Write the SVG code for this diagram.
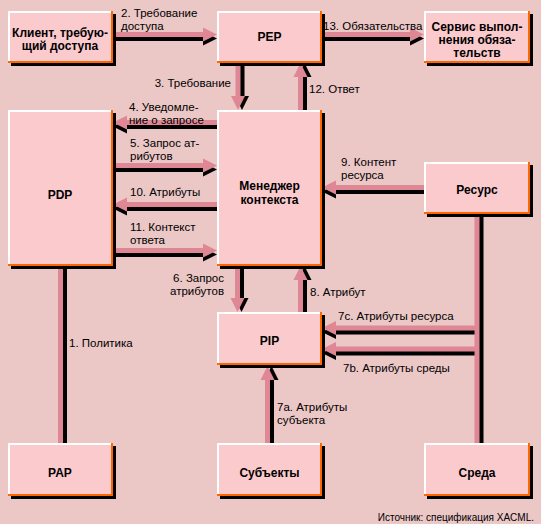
<svg xmlns="http://www.w3.org/2000/svg" width="541" height="524" viewBox="0 0 541 524">
<style>
.sh{fill:#000}
.or{fill:#FF6600}
.wh{fill:#FFFFFF}
.bx{fill:#FBCACD}
.t{font-family:"Liberation Sans",Arial,sans-serif;font-size:11.5px;fill:#000}
.b{font-size:12px;font-weight:bold;text-anchor:middle}
.e{text-anchor:end}
.ln{stroke:#E08795;stroke-width:5;fill:none}
.lns{stroke:#000;stroke-width:5;fill:none}
.hd{fill:#E08795}
.hds{fill:#000}
.src{font-family:"Liberation Sans",Arial,sans-serif;font-size:10px;fill:#000;text-anchor:end}
</style>
<rect x="0" y="0" width="541" height="524" fill="#EBC7C6"/>
<g id="connectors">
  <g id="shadows">
    <g transform="translate(0,4)">
      <path class="lns" d="M113 34.5H204M322 34.5H411M113 165.5H204M113 250.5H204M217 122.5H126M217 204.5H126M424 187.5H335M477 328H335M477 349H335"/>
      <polygon class="hds" points="203,27.5 217,34.5 203,41.5"/>
      <polygon class="hds" points="410,27.5 424,34.5 410,41.5"/>
      <polygon class="hds" points="203,158.5 217,165.5 203,172.5"/>
      <polygon class="hds" points="203,243.5 217,250.5 203,257.5"/>
      <polygon class="hds" points="127,115.5 113,122.5 127,129.5"/>
      <polygon class="hds" points="127,197.5 113,204.5 127,211.5"/>
      <polygon class="hds" points="336,180.5 322,187.5 336,194.5"/>
      <polygon class="hds" points="336,321 322,328 336,335"/>
      <polygon class="hds" points="336,342 322,349 336,356"/>
    </g>
    <g transform="translate(4,0)">
      <path class="lns" d="M238 63V97M237.5 266V299M300.5 110V76M300.5 312V279M267.5 443V379M60.5 266V443M477 214V443"/>
      <polygon class="hds" points="231,96 238,110 245,96"/>
      <polygon class="hds" points="230.5,298 237.5,312 244.5,298"/>
      <polygon class="hds" points="293.5,77 300.5,63 307.5,77"/>
      <polygon class="hds" points="293.5,280 300.5,266 307.5,280"/>
      <polygon class="hds" points="260.5,380 267.5,366 274.5,380"/>
    </g>
  </g>
  <g id="lines">
    <path class="ln" d="M113 34.5H204M322 34.5H411M113 165.5H204M113 250.5H204M217 122.5H126M217 204.5H126M424 187.5H335M477 328H335M477 349H335"/>
    <path class="ln" d="M238 63V97M237.5 266V299M300.5 110V76M300.5 312V279M267.5 443V379M60.5 266V443M477 214V443"/>
    <polygon class="hd" points="203,27.5 217,34.5 203,41.5"/>
    <polygon class="hd" points="410,27.5 424,34.5 410,41.5"/>
    <polygon class="hd" points="203,158.5 217,165.5 203,172.5"/>
    <polygon class="hd" points="203,243.5 217,250.5 203,257.5"/>
    <polygon class="hd" points="127,115.5 113,122.5 127,129.5"/>
    <polygon class="hd" points="127,197.5 113,204.5 127,211.5"/>
    <polygon class="hd" points="336,180.5 322,187.5 336,194.5"/>
    <polygon class="hd" points="336,321 322,328 336,335"/>
    <polygon class="hd" points="336,342 322,349 336,356"/>
    <polygon class="hd" points="231,96 238,110 245,96"/>
    <polygon class="hd" points="230.5,298 237.5,312 244.5,298"/>
    <polygon class="hd" points="293.5,77 300.5,63 307.5,77"/>
    <polygon class="hd" points="293.5,280 300.5,266 307.5,280"/>
    <polygon class="hd" points="260.5,380 267.5,366 274.5,380"/>
  </g>
  <g id="labels">
    <text class="t" x="69" y="347">1. Политика</text>
    <text class="t" x="121" y="17">2. Требование</text>
    <text class="t" x="121" y="30">доступа</text>
    <text class="t e" x="231" y="87">3. Требование</text>
    <text class="t" x="129" y="111">4. Уведомле-</text>
    <text class="t" x="129" y="124">ние о запросе</text>
    <text class="t" x="130" y="147">5. Запрос ат-</text>
    <text class="t" x="130" y="160">рибутов</text>
    <text class="t e" x="224" y="282">6. Запрос</text>
    <text class="t e" x="224" y="295">атрибутов</text>
    <text class="t" x="277" y="411">7a. Атрибуты</text>
    <text class="t" x="277" y="424">субъекта</text>
    <text class="t" x="343" y="372">7b. Атрибуты среды</text>
    <text class="t" x="338" y="320">7c. Атрибуты ресурса</text>
    <text class="t" x="310" y="296">8. Атрибут</text>
    <text class="t" x="341" y="166">9. Контент</text>
    <text class="t" x="341" y="179">ресурса</text>
    <text class="t" x="130" y="196">10. Атрибуты</text>
    <text class="t" x="130" y="231">11. Контекст</text>
    <text class="t" x="130" y="244">ответа</text>
    <text class="t" x="309" y="93">12. Ответ</text>
    <text class="t" x="323" y="30">13. Обязательства</text>
  </g>
</g>
<g id="client">
  <rect class="sh" x="11" y="14" width="105" height="52"/>
  <rect class="or" x="8" y="11" width="105" height="52"/>
  <rect class="wh" x="8" y="11" width="103" height="50"/>
  <rect class="bx" x="10" y="13" width="101" height="48"/>
  <text class="t b" x="60" y="37">Клиент, требую-</text>
  <text class="t b" x="60" y="50">щий доступа</text>
</g>
<g id="pep">
  <rect class="sh" x="220" y="14" width="105" height="52"/>
  <rect class="or" x="217" y="11" width="105" height="52"/>
  <rect class="wh" x="217" y="11" width="103" height="50"/>
  <rect class="bx" x="219" y="13" width="101" height="48"/>
  <text class="t b" x="269.5" y="41">PEP</text>
</g>
<g id="obligations">
  <rect class="sh" x="427" y="14" width="106" height="52"/>
  <rect class="or" x="424" y="11" width="106" height="52"/>
  <rect class="wh" x="424" y="11" width="104" height="50"/>
  <rect class="bx" x="426" y="13" width="102" height="48"/>
  <text class="t b" x="477" y="31">Сервис выпол-</text>
  <text class="t b" x="477" y="44">нения обяза-</text>
  <text class="t b" x="477" y="57">тельств</text>
</g>
<g id="pdp">
  <rect class="sh" x="11" y="113" width="105" height="156"/>
  <rect class="or" x="8" y="110" width="105" height="156"/>
  <rect class="wh" x="8" y="110" width="103" height="154"/>
  <rect class="bx" x="10" y="112" width="101" height="152"/>
  <text class="t b" x="60" y="199">PDP</text>
</g>
<g id="context">
  <rect class="sh" x="220" y="113" width="105" height="156"/>
  <rect class="or" x="217" y="110" width="105" height="156"/>
  <rect class="wh" x="217" y="110" width="103" height="154"/>
  <rect class="bx" x="219" y="112" width="101" height="152"/>
  <text class="t b" x="269.5" y="190">Менеджер</text>
  <text class="t b" x="269.5" y="204">контекста</text>
</g>
<g id="resource">
  <rect class="sh" x="427" y="165" width="106" height="52"/>
  <rect class="or" x="424" y="162" width="106" height="52"/>
  <rect class="wh" x="424" y="162" width="104" height="50"/>
  <rect class="bx" x="426" y="164" width="102" height="48"/>
  <text class="t b" x="477" y="194">Ресурс</text>
</g>
<g id="pip">
  <rect class="sh" x="220" y="315" width="105" height="53"/>
  <rect class="or" x="217" y="312" width="105" height="53"/>
  <rect class="wh" x="217" y="312" width="103" height="51"/>
  <rect class="bx" x="219" y="314" width="101" height="49"/>
  <text class="t b" x="269.5" y="345">PIP</text>
</g>
<g id="pap">
  <rect class="sh" x="11" y="446" width="105" height="53"/>
  <rect class="or" x="8" y="443" width="105" height="53"/>
  <rect class="wh" x="8" y="443" width="103" height="51"/>
  <rect class="bx" x="10" y="445" width="101" height="49"/>
  <text class="t b" x="60" y="477">PAP</text>
</g>
<g id="subjects">
  <rect class="sh" x="220" y="446" width="105" height="53"/>
  <rect class="or" x="217" y="443" width="105" height="53"/>
  <rect class="wh" x="217" y="443" width="103" height="51"/>
  <rect class="bx" x="219" y="445" width="101" height="49"/>
  <text class="t b" x="269.5" y="477">Субъекты</text>
</g>
<g id="environment">
  <rect class="sh" x="427" y="446" width="106" height="53"/>
  <rect class="or" x="424" y="443" width="106" height="53"/>
  <rect class="wh" x="424" y="443" width="104" height="51"/>
  <rect class="bx" x="426" y="445" width="102" height="49"/>
  <text class="t b" x="477" y="477">Среда</text>
</g>
<text class="src" x="534" y="521">Источник: спецификация XACML.</text>
</svg>
